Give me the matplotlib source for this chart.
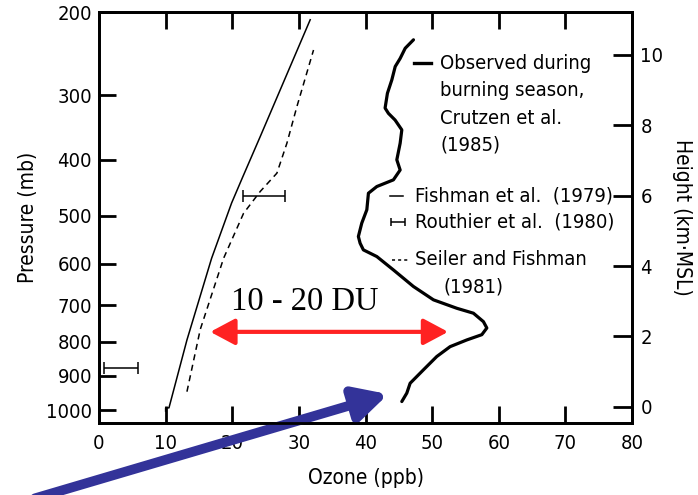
import matplotlib
matplotlib.use("Agg")
import matplotlib.pyplot as plt
import numpy as np

plt.rcParams['font.family'] = ['DejaVu Sans']
plt.rcParams['font.stretch'] = 'condensed'

# Observed during burning season (Crutzen et al. 1985): ozone ppb vs height km
obs_o3 = [47.2, 45.96, 45.2, 44.46, 43.95, 43.29, 42.94, 43.44, 44.44, 45.45,
          45.2, 44.7, 45.2, 44.19, 41.7, 40.44, 40.2, 39.44, 38.93, 39.19, 39.68,
          41.7, 44.19, 47.19, 50.2, 53.71, 56.2, 57.7, 58.21, 57.46, 55.2, 52.7,
          50.7, 48.69, 46.7, 46.2, 45.45]
obs_h = [10.43, 10.19, 9.90, 9.67, 9.29, 8.91, 8.49, 8.34, 8.15, 7.87,
         7.49, 7.02, 6.73, 6.45, 6.26, 6.07, 5.60, 5.22, 4.84, 4.65, 4.46,
         4.27, 3.89, 3.42, 3.04, 2.80, 2.66, 2.42, 2.24, 2.05, 1.90, 1.71,
         1.43, 1.05, 0.67, 0.39, 0.15]

# Fishman et al. (1979)
fish_o3 = [10.0, 10.0, 10.5, 13.2, 16.9, 19.9, 21.5, 24.2, 31.7]
fish_h = [-0.12, -0.03, -0.03, 1.9, 4.22, 5.79, 6.5, 7.68, 11.0]

# Seiler and Fishman (1981)
seil_o3 = [13.2, 15.2, 18.7, 21.7, 24.2, 26.7, 28.2, 29.7, 32.2]
seil_h = [0.43, 2.2, 4.22, 5.50, 6.12, 6.64, 7.49, 8.53, 10.14]

# Routhier et al. (1980): center, half-width, height
rout_o3 = [3.35, 24.75]
rout_err = [2.55, 3.15]
rout_h = [1.1, 6.0]

# pressure labels and their heights (km)
p_labels = ['200', '300', '400', '500', '600', '700', '800', '900', '1000']
p_heights = [11.22, 8.86, 7.02, 5.43, 4.06, 2.89, 1.85, 0.88, -0.1]
h_ticks = [0, 2, 4, 6, 8, 10]
x_ticks = [0, 10, 20, 30, 40, 50, 60, 70, 80]

fig = plt.figure(figsize=(6.98, 4.95), dpi=100)
ax = fig.add_axes([99/698, 1-423/495, (632-99)/698, (423-12)/495])
ax.set_xlim(0, 80)
ax.set_ylim(-0.46, 11.22)

ax.plot(fish_o3, fish_h, color='black', lw=1.1)
ax.plot(seil_o3, seil_h, color='black', lw=1.1, ls=(0, (4, 3)))
ax.plot(obs_o3, obs_h, color='black', lw=2.3, solid_capstyle='round',
        solid_joinstyle='round')
ax.errorbar(rout_o3, rout_h, xerr=rout_err, fmt='none', ecolor='black',
            elinewidth=1.1, capsize=4, capthick=1.1)

for s in ax.spines.values():
    s.set_linewidth(2)

ax.set_xticks(x_ticks)
ax.tick_params(axis='x', direction='in', length=12, width=2, labelsize=14.5, pad=8,
               top=True)
ax.set_yticks(p_heights)
ax.set_yticklabels(p_labels)
ax.tick_params(axis='y', direction='in', length=12, width=2, labelsize=14.5, pad=5)
ax.set_xlabel('Ozone (ppb)', fontsize=15, labelpad=11)
ax.set_ylabel('Pressure (mb)', fontsize=15, labelpad=6)

ax2 = ax.twinx()
ax2.set_ylim(ax.get_ylim())
ax2.set_yticks(h_ticks)
ax2.tick_params(axis='y', direction='in', length=14, width=2, labelsize=14.5, pad=6)
for s in ax2.spines.values():
    s.set_linewidth(2)
ax2.set_ylabel('Height (km·MSL)', fontsize=15, rotation=-90, labelpad=21)

# legend drawn by hand
fs = 14.5
ax.plot([47.3, 49.8], [9.77, 9.77], color='black', lw=2.4)
for txt, h in zip(['Observed during', 'burning season,', 'Crutzen et al.', '(1985)'],
                  [9.77, 9.0, 8.2, 7.44]):
    ax.text(51.2, h, txt, fontsize=fs, va='center', ha='left')
ax.plot([43.7, 45.6], [6.0, 6.0], color='black', lw=1.1)
ax.text(47.4, 6.0, 'Fishman et al.  (1979)', fontsize=fs, va='center')
ax.errorbar([44.9], [5.26], xerr=[1.1], fmt='none', ecolor='black',
            elinewidth=1.1, capsize=3, capthick=1.1)
ax.text(47.4, 5.26, 'Routhier et al.  (1980)', fontsize=fs, va='center')
ax.plot([44.0, 46.4], [4.18, 4.18], color='black', lw=1.1, ls=(0, (2, 2)))
ax.text(47.4, 4.18, 'Seiler and Fishman', fontsize=fs, va='center')
ax.text(51.7, 3.41, '(1981)', fontsize=fs, va='center')

# annotations
ax.text(19.8, 2.98, '10 - 20 DU', fontsize=23.5, family='Liberation Serif',
        stretch='normal', va='center', ha='left')
ax.annotate('', xy=(52.4, 2.13), xytext=(16.7, 2.13),
            arrowprops=dict(arrowstyle='<|-|>,head_length=0.6,head_width=0.32',
                            color='#ff2222', lw=3, mutation_scale=25,
                            shrinkA=0, shrinkB=0))
ax.annotate('', xy=(43.4, 0.36), xytext=(-9.6, -2.6), annotation_clip=False,
            arrowprops=dict(arrowstyle='-|>,head_length=0.65,head_width=0.34',
                            color='#333399', lw=7, mutation_scale=30,
                            shrinkA=0, shrinkB=0))

fig.savefig('out.png', dpi=100)
